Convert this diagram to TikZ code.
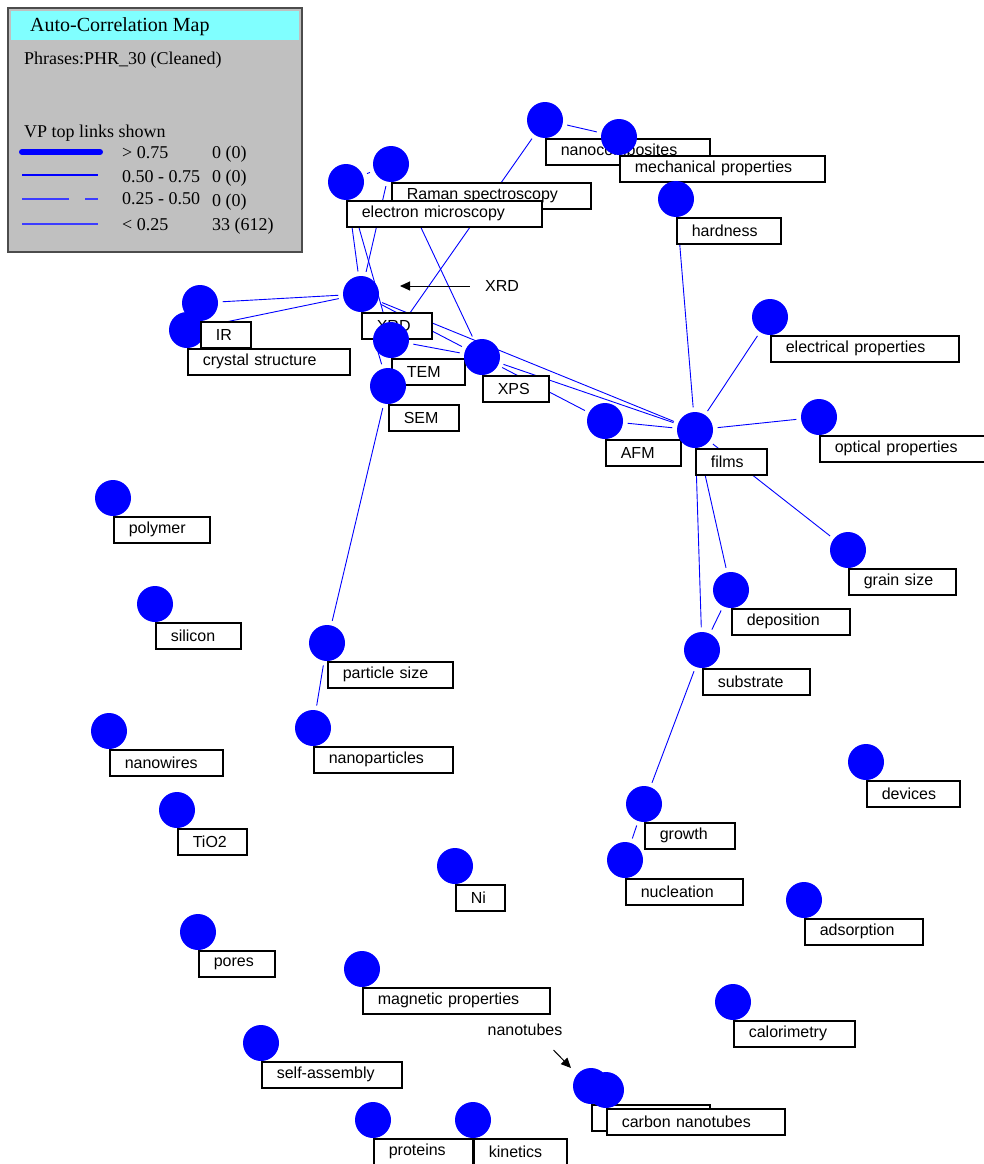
\documentclass[tikz,border=0pt]{standalone}
\usepackage{fontspec}
\setmainfont{Liberation Serif}
\setsansfont{Liberation Sans}
\usetikzlibrary{arrows,arrows.meta,backgrounds}

\definecolor{legendgray}{RGB}{192,192,192}
\definecolor{titlecyan}{RGB}{128,255,255}
\definecolor{dotblue}{RGB}{0,0,255}
\definecolor{weakblue}{RGB}{60,60,255}

\tikzset{
	dot/.style={circle, fill=dotblue, minimum size=36pt, inner sep=0pt},
	lbl/.style={draw=black, line width=1.6pt, fill=white, anchor=north west, minimum height=26pt, inner ysep=0pt, inner xsep=15pt, align=left, font=\sffamily\fontsize{16}{18}\selectfont},
	link/.style={draw=dotblue, line width=0.9pt, shorten >=4.5pt, shorten <=4.5pt},
	note/.style={inner sep=0pt, font=\sffamily\fontsize{16}{18}\selectfont},
	pointer/.style={->, >={Triangle[length=10pt,width=9pt]}, line width=1pt},
	legtext/.style={anchor=base west, inner sep=0pt, font=\fontsize{18}{20}\selectfont}
}

% phrase: name, x, y, box width, text
\newcommand{\phrase}[5]{%
	\pgfmathsetmacro{\tw}{#4-30}%
	\node[dot] (#1) at (#2,#3) {};
	\node[lbl, text width=\tw pt] (#1-l) at (#2,#3+18) {#5};
}

\begin{document}
\begin{tikzpicture}[x=1pt, y=-1pt]
	\useasboundingbox (0,0) rectangle (984,1164);

	% legend
	\draw [fill=legendgray, draw=black!70, line width=1.5pt] (8,8) rectangle (302,252);
	\fill [titlecyan] (11,11) rectangle (299,40);
	\node[legtext, font=\fontsize{20}{22}\selectfont] (legtitle) at (30,32) {Auto-Correlation Map};
	\node[legtext] (legphr) at (24,65) {Phrases:PHR\_30 (Cleaned)};
	\node[legtext] (legvp) at (24,137) {VP top links shown};
	\draw [dotblue, line width=6pt, line cap=round] (22,152) -- (100,152);
	\draw [dotblue, line width=2pt] (22,175) -- (98,175);
	\draw [weakblue, line width=1.3pt] (22,199) -- (69,199) (85,199) -- (98,199);
	\draw [weakblue, line width=1.3pt] (22,224) -- (98,224);
	\node[legtext] (r1a) at (122,158) {> 0.75};
	\node[legtext] (r1b) at (212,158) {0 (0)};
	\node[legtext] (r2a) at (122,182) {0.50 - 0.75};
	\node[legtext] (r2b) at (212,182) {0 (0)};
	\node[legtext] (r3a) at (122,204) {0.25 - 0.50};
	\node[legtext] (r3b) at (212,206) {0 (0)};
	\node[legtext] (r4a) at (122,230) {< 0.25};
	\node[legtext] (r4b) at (212,230) {33 (612)};

	% phrases
	\phrase{ncomp}{545}{120}{164}{nanocomposites}
	\phrase{mech}{619}{137}{205}{mechanical properties}
	\phrase{hard}{676}{199}{104}{hardness}
	\phrase{raman}{391}{164}{199}{Raman spectroscopy}
	\phrase{emic}{346}{182}{195}{electron microscopy}
	\phrase{cryst}{187}{330}{162}{crystal structure}
	\phrase{ir}{200}{303}{50}{IR}
	\phrase{xrd}{361}{294}{70}{XRD}
	\phrase{tem}{391}{340}{73}{TEM}
	\phrase{sem}{388}{386}{70}{SEM}
	\phrase{xps}{482}{357}{66}{XPS}
	\phrase{afm}{605}{421}{75}{AFM}
	\phrase{films}{695}{430}{71}{films}
	\phrase{elec}{770}{317}{188}{electrical properties}
	\phrase{opt}{819}{417}{166}{optical properties}
	\phrase{grain}{848}{550}{107}{grain size}
	\phrase{depo}{731}{590}{118}{deposition}
	\phrase{subs}{702}{650}{107}{substrate}
	\phrase{poly}{113}{498}{96}{polymer}
	\phrase{sili}{155}{604}{85}{silicon}
	\phrase{psize}{327}{643}{125}{particle size}
	\phrase{nparts}{313}{728}{139}{nanoparticles}
	\phrase{nwires}{109}{731}{113}{nanowires}
	\phrase{tio}{177}{810}{69}{TiO2}
	\phrase{dev}{866}{762}{93}{devices}
	\phrase{grow}{644}{804}{90}{growth}
	\phrase{nucl}{625}{860}{117}{nucleation}
	\phrase{ni}{455}{866}{49}{Ni}
	\phrase{adsorp}{804}{900}{118}{adsorption}
	\phrase{pores}{198}{932}{76}{pores}
	\phrase{magn}{362}{969}{187}{magnetic properties}
	\phrase{calor}{733}{1002}{121}{calorimetry}
	\phrase{selfas}{261}{1043}{140}{self-assembly}
	\phrase{ntubes}{591}{1086}{118}{nanotubes}
	\phrase{cnt}{606}{1090}{178}{carbon nanotubes}
	\phrase{prot}{373}{1120}{99}{proteins}
	\phrase{kin}{473}{1120}{93}{kinetics}

	% links
	\begin{scope}[on background layer]
		\fill [white] (0,0) rectangle (984,1164);
		\foreach \a/\b in {ncomp/mech, ncomp/tem, raman/xps, raman/xrd, emic/xrd, emic/tem, emic/raman,
			xrd/ir, xrd/cryst, xrd/xps, xrd/films, xrd/sem, tem/xps, xps/films, xps/afm, afm/films,
			sem/psize, psize/nparts, hard/films, elec/films, opt/films, grain/films,
			films/depo, films/subs, depo/subs, subs/grow, grow/nucl}
			\draw [link] (\a) -- (\b);
	\end{scope}

	% pointers
	\node[note] (xrdnote) at (502,286) {XRD};
	\coordinate (xrdtip) at (400,286);
	\draw [pointer] ([xshift=-15pt]xrdnote.west) -- (xrdtip);

	\node[note] (ntnote) at (525,1030) {nanotubes};
	\coordinate (nttip) at (571,1068);
	\draw [pointer] ([xshift=-9pt,yshift=-14pt]ntnote.south east) -- (nttip);
\end{tikzpicture}
\end{document}
